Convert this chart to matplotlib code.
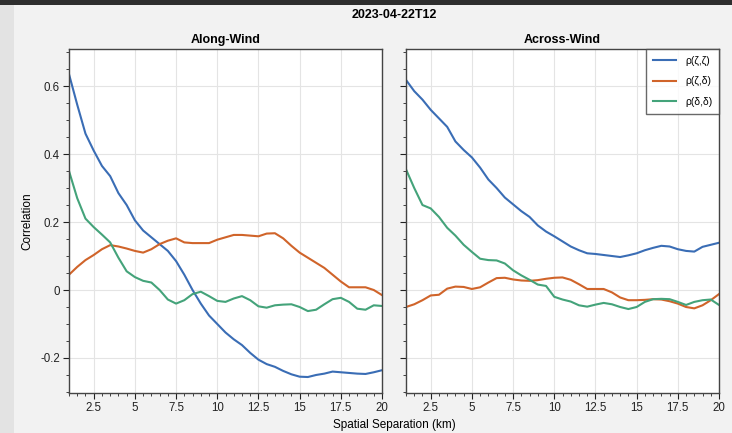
import matplotlib
matplotlib.use("Agg")
from matplotlib import pyplot as plt
from matplotlib.patches import Rectangle
from matplotlib.ticker import MultipleLocator, FuncFormatter

# spatial separation (km)
sep = [1, 1.5, 2, 2.5, 3, 3.5, 4, 4.5, 5, 5.5, 6, 6.5, 7, 7.5, 8, 8.5, 9, 9.5, 10, 10.5,
       11, 11.5, 12, 12.5, 13, 13.5, 14, 14.5, 15, 15.5, 16, 16.5, 17, 17.5, 18, 18.5, 19, 19.5, 20]

# along-wind
along_zz = [0.635, 0.545, 0.46, 0.41, 0.365, 0.335, 0.285, 0.25, 0.205, 0.175, 0.155, 0.135, 0.115,
            0.085, 0.045, 0.0, -0.04, -0.075, -0.1, -0.125, -0.145, -0.162, -0.185, -0.205, -0.218,
            -0.226, -0.238, -0.248, -0.255, -0.256, -0.25, -0.246, -0.24, -0.242, -0.244, -0.246,
            -0.247, -0.242, -0.236]
along_zd = [0.045, 0.068, 0.088, 0.103, 0.12, 0.132, 0.128, 0.122, 0.115, 0.11, 0.12, 0.135, 0.145,
            0.152, 0.14, 0.138, 0.138, 0.138, 0.148, 0.155, 0.162, 0.162, 0.16, 0.158, 0.166, 0.167,
            0.152, 0.13, 0.11, 0.095, 0.08, 0.065, 0.045, 0.025, 0.008, 0.008, 0.008, 0.0, -0.015]
along_dd = [0.35, 0.27, 0.21, 0.185, 0.163, 0.14, 0.095, 0.055, 0.038, 0.027, 0.022, 0.0, -0.028,
            -0.04, -0.03, -0.012, -0.005, -0.018, -0.032, -0.035, -0.025, -0.018, -0.03, -0.048,
            -0.052, -0.045, -0.043, -0.042, -0.05, -0.062, -0.058, -0.042, -0.027, -0.023, -0.035,
            -0.055, -0.058, -0.045, -0.047]

# across-wind
across_zz = [0.618, 0.585, 0.56, 0.53, 0.505, 0.48, 0.437, 0.412, 0.39, 0.36, 0.325, 0.3, 0.272,
             0.252, 0.232, 0.215, 0.19, 0.172, 0.158, 0.143, 0.128, 0.117, 0.108, 0.106, 0.103,
             0.1, 0.097, 0.102, 0.108, 0.117, 0.124, 0.13, 0.128, 0.12, 0.115, 0.113, 0.127,
             0.133, 0.139]
across_zd = [-0.05, -0.042, -0.03, -0.016, -0.014, 0.004, 0.01, 0.009, 0.003, 0.008, 0.022, 0.035,
             0.036, 0.031, 0.028, 0.027, 0.029, 0.033, 0.036, 0.037, 0.03, 0.017, 0.003, 0.003,
             0.003, -0.007, -0.022, -0.03, -0.03, -0.029, -0.027, -0.028, -0.033, -0.04, -0.05,
             -0.054, -0.045, -0.03, -0.012]
across_dd = [0.355, 0.3, 0.25, 0.24, 0.215, 0.183, 0.16, 0.133, 0.112, 0.092, 0.088, 0.087, 0.078,
             0.058, 0.043, 0.03, 0.016, 0.012, -0.02, -0.028, -0.034, -0.045, -0.049, -0.043,
             -0.038, -0.042, -0.05, -0.056, -0.05, -0.035, -0.027, -0.026, -0.027, -0.035, -0.044,
             -0.035, -0.03, -0.028, -0.044]

labels = ["ρ(ζ,ζ)", "ρ(ζ,δ)", "ρ(δ,δ)"]
colors = ["#3a6db5", "#d0642a", "#44a37a"]

plt.rcParams["font.family"] = ["Liberation Sans", "DejaVu Sans"]
plt.rcParams["axes.unicode_minus"] = False

W, H = 732, 433
fig = plt.figure(figsize=(W / 100, H / 100), dpi=100, facecolor="#f2f2f2")

# window frame bits from the screenshot
fig.patches.append(Rectangle((0, 0), 14 / W, 1, transform=fig.transFigure,
                             facecolor="#e3e3e3", edgecolor="none", zorder=0))
fig.patches.append(Rectangle((0, 1 - 5 / H), 1, 5 / H, transform=fig.transFigure,
                             facecolor="#2e2e2e", edgecolor="none", zorder=0))

ax1 = fig.add_axes([69 / W, 1 - 393 / H, 313 / W, 344 / H])
ax2 = fig.add_axes([406 / W, 1 - 393 / H, 313 / W, 344 / H], sharey=ax1)

fmt = FuncFormatter(lambda v, p: "%g" % round(v, 3))

for ax, series, title in [(ax1, [along_zz, along_zd, along_dd], "Along-Wind"),
                          (ax2, [across_zz, across_zd, across_dd], "Across-Wind")]:
    ax.set_facecolor("white")
    for ys, c, lab in zip(series, colors, labels):
        ax.plot(sep, ys, color=c, lw=1.5, label=lab)
    ax.set_xlim(1, 20)
    ax.set_ylim(-0.303, 0.709)
    ax.xaxis.set_major_locator(MultipleLocator(2.5))
    ax.xaxis.set_minor_locator(MultipleLocator(0.5))
    ax.yaxis.set_major_locator(MultipleLocator(0.2))
    ax.yaxis.set_minor_locator(MultipleLocator(0.05))
    ax.xaxis.set_major_formatter(fmt)
    ax.yaxis.set_major_formatter(fmt)
    ax.grid(True, which="major", color="#e4e4e4", lw=0.8)
    ax.set_axisbelow(True)
    ax.tick_params(which="major", direction="out", length=4.5, width=0.8,
                   labelsize=8.3, colors="#222222", pad=2)
    ax.tick_params(which="minor", direction="out", length=2.2, width=0.6, colors="#222222")
    ax.tick_params(top=False, right=False)
    for s in ax.spines.values():
        s.set_color("#444444")
        s.set_linewidth(1.0)
    ax.set_title(title, fontsize=9, fontweight="bold", pad=4)

ax2.tick_params(labelleft=False)
ax1.set_ylabel("Correlation", fontsize=8.5, labelpad=5)

leg = ax2.legend(loc="upper right", fontsize=7.5, borderaxespad=0, fancybox=False,
                 handlelength=2.2, handletextpad=0.9, labelspacing=1.0, borderpad=0.65)
leg.get_frame().set_edgecolor("#444444")
leg.get_frame().set_linewidth(1.0)

fig.text(394 / W, 1 - 15 / H, "2023-04-22T12", ha="center", va="center",
         fontsize=9, fontweight="bold")
fig.text(394 / W, 1 - 425 / H, "Spatial Separation (km)", ha="center", va="center",
         fontsize=8.5)

fig.savefig("out.png", dpi=100, facecolor=fig.get_facecolor())
